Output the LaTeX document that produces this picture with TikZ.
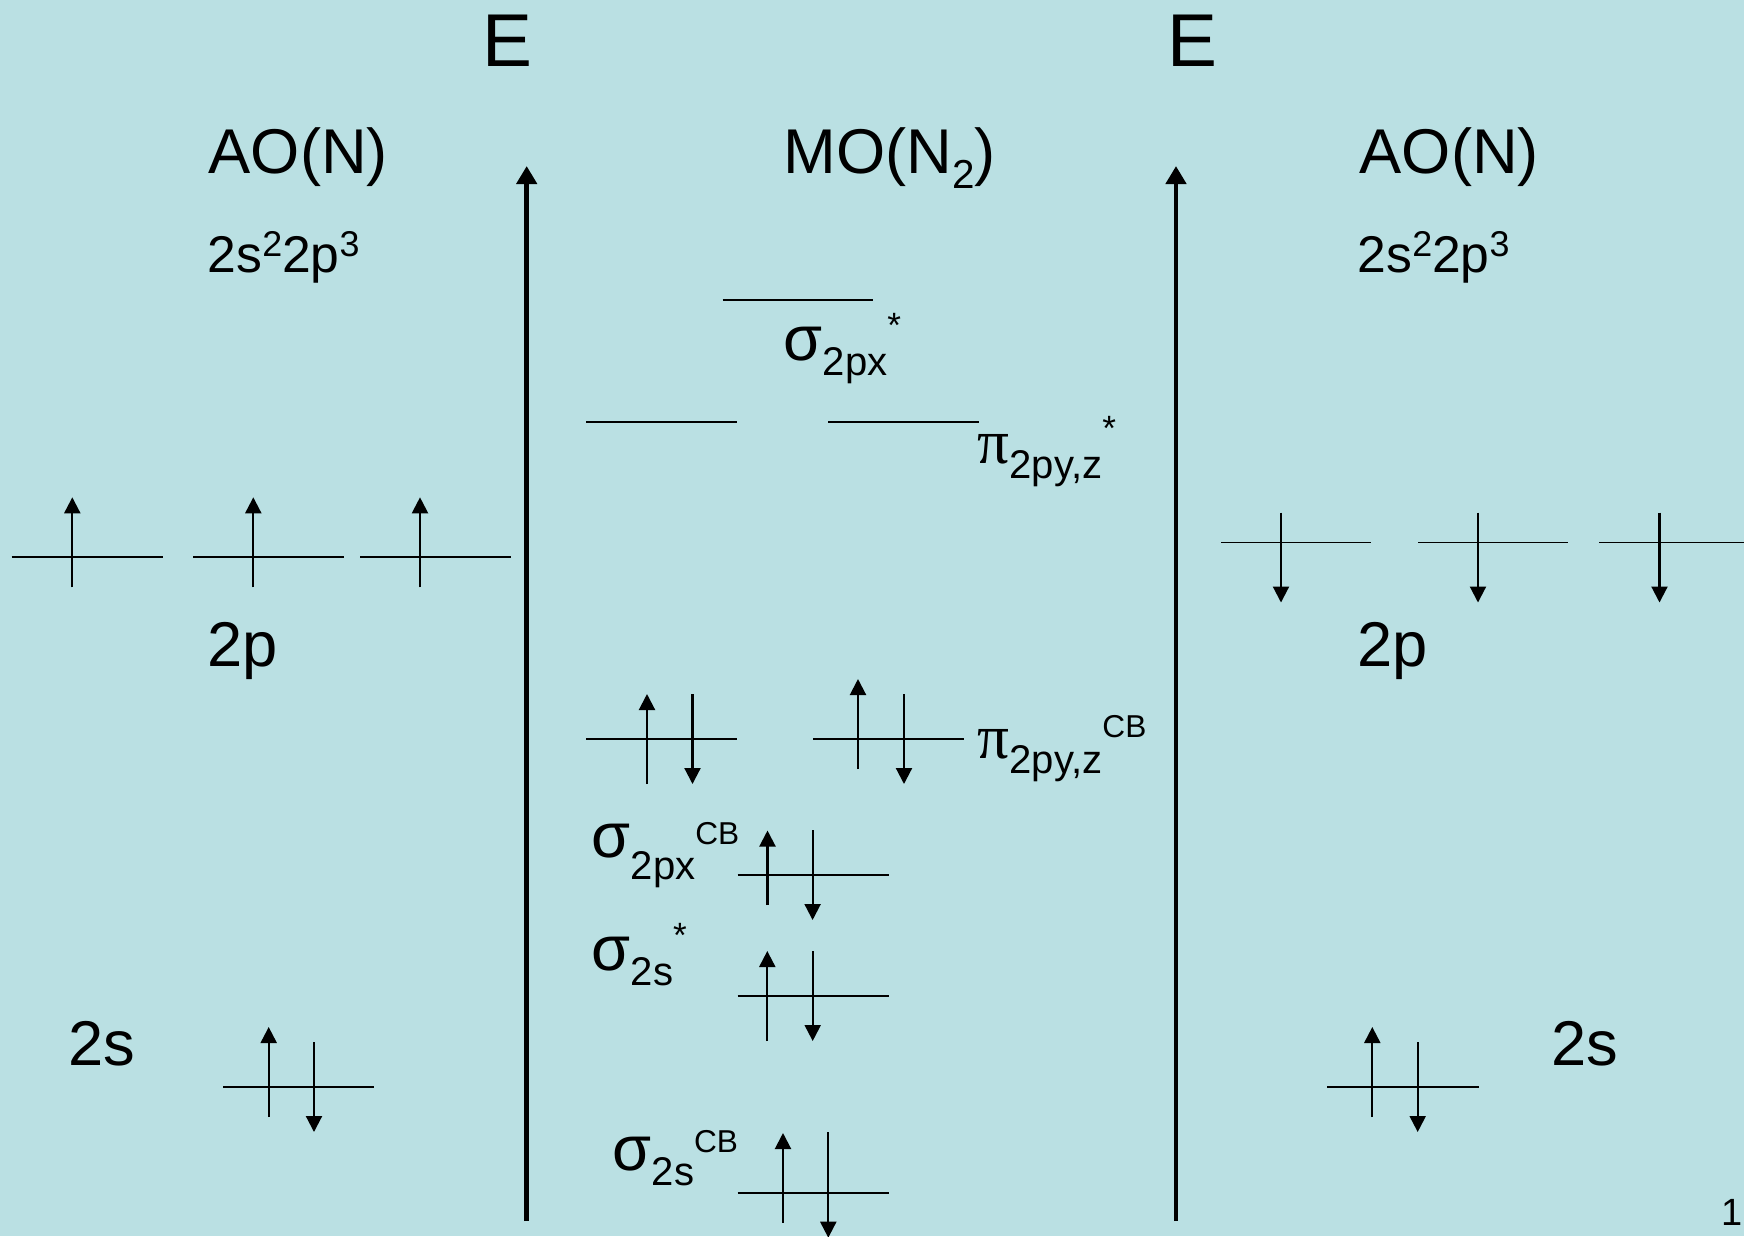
\documentclass[tikz,border=0pt]{standalone}
\usepackage{fontspec}
\setmainfont{Liberation Sans}
\newfontfamily\greekserif{Liberation Serif}
\usetikzlibrary{arrows.meta}
\definecolor{slideteal}{HTML}{BAE0E3}
\newcommand{\mosub}[2][4.3pt]{\raisebox{-#1}{\fontsize{11.4}{12}\selectfont #2}}
\newcommand{\mosup}[2][5.1pt]{\raisebox{#1}{\fontsize{9}{10}\selectfont #2}}
\newcommand{\mostar}{\raisebox{6.3pt}{\fontsize{10}{11}\selectfont *}}
\newcommand{\confsup}[1]{\raisebox{4.3pt}{\fontsize{10.2}{11}\selectfont #1}}

\begin{document}
\begin{tikzpicture}[
  x=0.1mm, y=-0.1mm,
  level/.style={line width=0.5pt},
  spin/.style={-{Triangle[length=1.6mm,width=1.6mm]}, line width=0.6pt},
  axis/.style={-{Triangle[length=1.8mm,width=2mm]}, line width=1.4pt},
  lab/.style={anchor=base west, inner sep=0pt, font=\fontsize{18}{20}\selectfont},
  conf/.style={anchor=base west, inner sep=0pt, font=\fontsize{14.7}{17}\selectfont}
]
  \fill[slideteal] (0,0) rectangle (1744,1236);
  \useasboundingbox (0,0) rectangle (1744,1236);

  % energy axes
  \coordinate (axL0) at (526.7,1221);
  \coordinate (axL1) at (526.7,166);
  \coordinate (axR0) at (1176,1221);
  \coordinate (axR1) at (1176,166);
  \draw[axis] (axL0) -- (axL1);
  \draw[axis] (axR0) -- (axR1);
  \node[anchor=base west, inner sep=0pt, font=\fontsize{21.3}{24}\selectfont] (eL) at (482,66) {E};
  \node[anchor=base west, inner sep=0pt, font=\fontsize{21.3}{24}\selectfont] (eR) at (1167,66) {E};

  % headings
  \node[lab] (aoL) at (208,173) {AO(N)};
  \node[lab] (mo) at (783,173) {MO(N\raisebox{-4.3pt}{\fontsize{11.5}{12}\selectfont 2})};
  \node[lab] (aoR) at (1359,173) {AO(N)};
  \node[conf] (confL) at (207,272) {2s\confsup{2}2p\confsup{3}};
  \node[conf] (confR) at (1357,272) {2s\confsup{2}2p\confsup{3}};

  % left atom
  \draw[level] (11.7,557.3) -- (162.7,557.3);
  \draw[level] (193.3,557.3) -- (344.3,557.3);
  \draw[level] (360,557.3) -- (510.7,557.3);
  \draw[spin] (72.3,587.3) -- (72.3,497.3);
  \draw[spin] (253.3,587.3) -- (253.3,497.3);
  \draw[spin] (420,587.3) -- (420,497.3);
  \node[lab] (pL) at (207,666) {2p};
  \draw[level] (223,1087) -- (374,1087);
  \draw[spin] (268.7,1117) -- (268.7,1027);
  \draw[spin] (314,1042) -- (314,1132);
  \node[lab] (sL) at (68,1065) {2s};

  % right atom
  \draw[level] (1221,542.5) -- (1371,542.5);
  \draw[level] (1418,542.5) -- (1568,542.5);
  \draw[level] (1599,542.5) -- (1750,542.5);
  \draw[spin] (1281,512.5) -- (1281,602.5);
  \draw[spin] (1478,512.5) -- (1478,602.5);
  \draw[spin] (1659.5,512.5) -- (1659.5,602.5);
  \node[lab] (pR) at (1357,666) {2p};
  \draw[level] (1327,1087) -- (1478.7,1087);
  \draw[spin] (1372.3,1117) -- (1372.3,1027);
  \draw[spin] (1417.7,1042) -- (1417.7,1132);
  \node[lab] (sR) at (1551,1065) {2s};

  % molecule
  \draw[level] (722.7,300) -- (873.3,300);
  \node[lab] (sigxstar) at (783,360) {σ\mosub{2px}\mostar};
  \draw[level] (586,421.7) -- (737.3,421.7);
  \draw[level] (828.3,421.7) -- (979.3,421.7);
  \node[lab] (pistar) at (977,463) {{\greekserif π}\mosub{2py,z}\mostar};

  \draw[level] (586,739) -- (737,739);
  \draw[spin] (647,784) -- (647,694);
  \draw[spin] (692.5,694) -- (692.5,784);
  \draw[level] (813,739) -- (964,739);
  \draw[spin] (858,769) -- (858,679);
  \draw[spin] (904,694) -- (904,784);
  \node[lab] (pibond) at (977,758) {{\greekserif π}\mosub{2py,z}\mosup[5.7pt]{CB}};

  \draw[level] (737.6,875) -- (888.8,875);
  \draw[spin] (767.5,905) -- (767.5,830.5);
  \draw[spin] (812.6,830) -- (812.6,920);
  \node[lab] (sigxbond) at (591,857) {σ\mosub[6.3pt]{2px}\mosup[3.7pt]{CB}};

  \draw[level] (737.7,996) -- (889,996);
  \draw[spin] (767.3,1041) -- (767.3,951);
  \draw[spin] (812.7,951) -- (812.7,1041);
  \node[lab] (sigsstar) at (591,970) {σ\mosub{2s}\mostar};

  \draw[level] (737.7,1192.7) -- (889,1192.7);
  \draw[spin] (783,1222.7) -- (783,1133);
  \draw[spin] (828.3,1132) -- (828.3,1237.7);
  \node[lab] (sigsbond) at (612,1170) {σ\mosub{2s}\mosup{CB}};

  \node[anchor=base west, inner sep=0pt, font=\fontsize{10.8}{12}\selectfont] (pageno) at (1721,1225) {1};
\end{tikzpicture}
\end{document}
